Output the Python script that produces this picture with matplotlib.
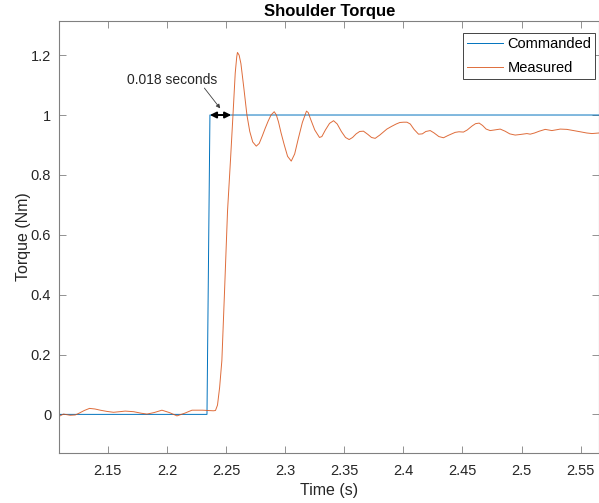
import matplotlib
matplotlib.use("Agg")
import matplotlib.pyplot as plt

plt.rcParams['font.family'] = ['Liberation Sans', 'DejaVu Sans']

# Commanded torque step (s, Nm)
cmd_t = [2.1090, 2.2338, 2.2363, 2.5660]
cmd_v = [0.0, 0.0, 1.0, 1.0]

# Measured shoulder torque (s, Nm)
meas_t = [2.1090, 2.1124, 2.1180, 2.1223, 2.1251, 2.1300, 2.1344, 2.1390, 2.1435,
          2.1490, 2.1547, 2.1600, 2.1646, 2.1717, 2.1780, 2.1830, 2.1890, 2.1957,
          2.2020, 2.2084, 2.2150, 2.2211, 2.2300, 2.2393, 2.2410, 2.2427, 2.2445,
          2.2464, 2.2486, 2.2512, 2.2537, 2.2558, 2.2577, 2.2590, 2.2596, 2.2610,
          2.2625, 2.2650, 2.2676, 2.2700, 2.2725, 2.2755, 2.2780, 2.2806, 2.2830,
          2.2856, 2.2880, 2.2907, 2.2925, 2.2943, 2.2965, 2.2992, 2.3020, 2.3051,
          2.3080, 2.3110, 2.3145, 2.3180, 2.3195, 2.3212, 2.3250, 2.3290, 2.3310,
          2.3340, 2.3375, 2.3409, 2.3440, 2.3475, 2.3510, 2.3541, 2.3570, 2.3600,
          2.3630, 2.3662, 2.3700, 2.3730, 2.3761, 2.3800, 2.3860, 2.3900, 2.3939,
          2.3970, 2.4001, 2.4030, 2.4058, 2.4090, 2.4128, 2.4160, 2.4190, 2.4227,
          2.4260, 2.4300, 2.4339, 2.4380, 2.4438, 2.4470, 2.4508, 2.4540, 2.4580,
          2.4610, 2.4641, 2.4670, 2.4700, 2.4734, 2.4770, 2.4819, 2.4860, 2.4900,
          2.4946, 2.4990, 2.5045, 2.5073, 2.5110, 2.5150, 2.5200, 2.5256, 2.5300,
          2.5327, 2.5383, 2.5440, 2.5496, 2.5550, 2.5595, 2.5657]
meas_v = [-0.006, 0.001, -0.003, -0.002, 0.003, 0.013, 0.020, 0.018, 0.014,
          0.010, 0.007, 0.009, 0.011, 0.009, 0.004, 0.001, 0.006, 0.014,
          0.006, -0.005, 0.004, 0.014, 0.014, 0.012, 0.013, 0.031, 0.090,
          0.180, 0.405, 0.680, 0.850, 1.000, 1.140, 1.195, 1.209, 1.200,
          1.172, 1.090, 1.000, 0.945, 0.910, 0.896, 0.905, 0.930, 0.955,
          0.980, 1.000, 1.011, 1.000, 0.977, 0.940, 0.900, 0.862, 0.846,
          0.870, 0.920, 0.975, 1.013, 1.008, 0.989, 0.950, 0.925, 0.928,
          0.950, 0.972, 0.981, 0.970, 0.945, 0.925, 0.918, 0.925, 0.937,
          0.945, 0.946, 0.935, 0.925, 0.922, 0.933, 0.953, 0.962, 0.970,
          0.975, 0.976, 0.976, 0.970, 0.952, 0.936, 0.937, 0.945, 0.948,
          0.940, 0.928, 0.924, 0.932, 0.942, 0.944, 0.943, 0.950, 0.963,
          0.971, 0.973, 0.965, 0.953, 0.948, 0.950, 0.953, 0.946, 0.937,
          0.933, 0.935, 0.938, 0.936, 0.940, 0.946, 0.952, 0.948, 0.951,
          0.953, 0.952, 0.948, 0.944, 0.940, 0.938, 0.940]

x_ticks = [2.15, 2.2, 2.25, 2.3, 2.35, 2.4, 2.45, 2.5, 2.55]
x_tick_labels = ['2.15', '2.2', '2.25', '2.3', '2.35', '2.4', '2.45', '2.5', '2.55']
y_ticks = [0, 0.2, 0.4, 0.6, 0.8, 1.0, 1.2]
y_tick_labels = ['0', '0.2', '0.4', '0.6', '0.8', '1', '1.2']

delay_start = 2.2363
delay = 0.018

fig = plt.figure(figsize=(5.99, 5.03), dpi=100)
ax = fig.add_axes([0.0993, 0.100, 0.9007, 0.858])

blue = '#0072BD'
orange = '#D95319'
ax.plot(cmd_t, cmd_v, color=blue, lw=0.7, label='Commanded')
ax.plot(meas_t, meas_v, color=orange, lw=0.7, alpha=0.85, label='Measured')

ax.set_xlim(2.109, 2.5655)
ax.set_ylim(-0.128, 1.3136)
ax.set_xticks(x_ticks)
ax.set_xticklabels(x_tick_labels)
ax.set_yticks(y_ticks)
ax.set_yticklabels(y_tick_labels)

axis_color = '#262626'
for s in ax.spines.values():
    s.set_color('#808080')
    s.set_linewidth(0.8)
ax.tick_params(direction='in', length=5, width=0.6, color='#808080',
               labelcolor=axis_color, labelsize=10.5, top=True, right=True)
ax.tick_params(axis='x', pad=8)
ax.tick_params(axis='y', pad=6)

ax.set_xlabel('Time (s)', fontsize=11.5, color=axis_color, labelpad=4)
ax.set_ylabel('Torque (Nm)', fontsize=11.5, color=axis_color, labelpad=0)
ax.set_title('Shoulder Torque', fontsize=12, fontweight='bold', color='black', pad=4)

# Delay marker between command and response
ax.annotate('', xy=(delay_start, 1.0), xytext=(delay_start + delay, 1.0),
            arrowprops=dict(arrowstyle='<|-|>', color='black', lw=1.4,
                            mutation_scale=9, shrinkA=0, shrinkB=0))
ax.annotate('', xy=(2.2450, 1.022), xytext=(2.2316, 1.090),
            arrowprops=dict(arrowstyle='-|>', color='#404040', lw=0.6,
                            mutation_scale=6, shrinkA=0, shrinkB=0))
ax.text(2.1663, 1.1166, '%.3f seconds' % delay, fontsize=10, color=axis_color,
        ha='left', va='center')

leg = ax.legend(loc='upper right', bbox_to_anchor=(0.9926, 0.972), borderaxespad=0,
                fontsize=10.5, fancybox=False, framealpha=1, edgecolor='#262626',
                handlelength=2.5, handletextpad=0.3, borderpad=0.25, labelspacing=0.7)
leg.get_frame().set_linewidth(0.6)

fig.savefig('out.png', dpi=100)
